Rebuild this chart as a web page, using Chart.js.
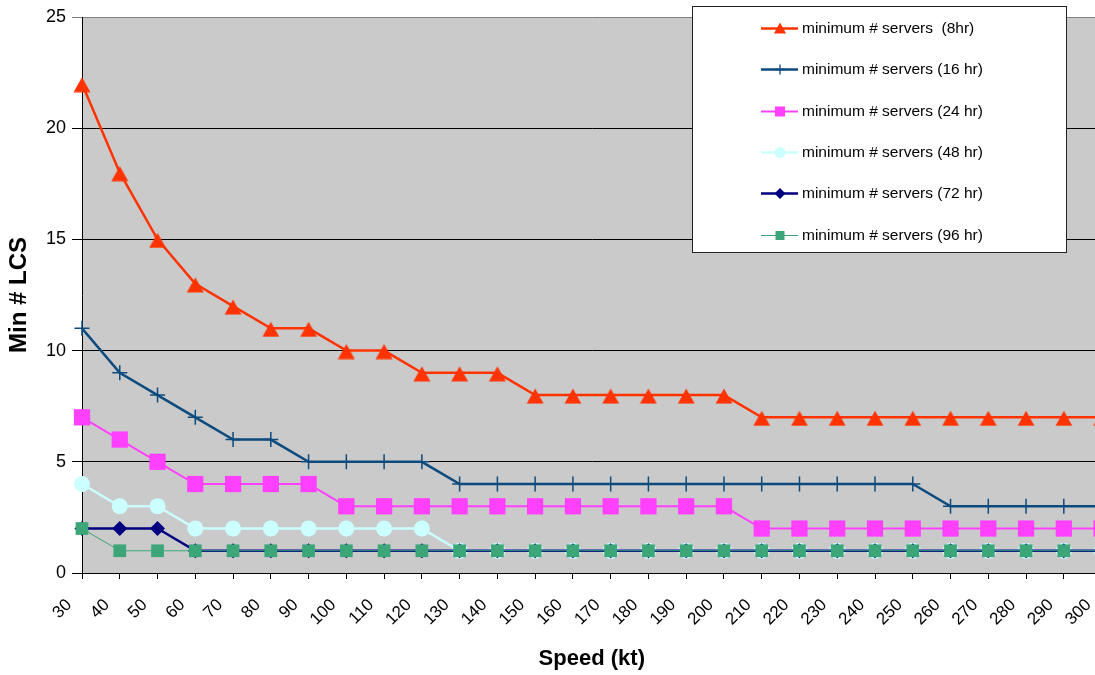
<!DOCTYPE html>
<html>
<head>
<meta charset="utf-8">
<script src="https://cdn.jsdelivr.net/npm/chart.js@4/dist/chart.umd.min.js"></script>
<style>
html, body { margin: 0; padding: 0; background: #fff; overflow: hidden; width: 1095px; height: 675px; }
#wrap { position: absolute; left: 0; top: 0; width: 1132px; height: 675px; }
</style>
</head>
<body>
<div id="wrap"><canvas id="c" width="1132" height="675"></canvas></div>
<script>
// ---------- data ----------
const speeds = ['30','40','50','60','70','80','90','100','110','120','130','140','150','160','170','180','190','200','210','220','230','240','250','260','270','280','290','300'];
const servers8hr  = [22,18,15,13,12,11,11,10,10,9,9,9,8,8,8,8,8,8,7,7,7,7,7,7,7,7,7,7];
const servers16hr = [11,9,8,7,6,6,5,5,5,5,4,4,4,4,4,4,4,4,4,4,4,4,4,3,3,3,3,3];
const servers24hr = [7,6,5,4,4,4,4,3,3,3,3,3,3,3,3,3,3,3,2,2,2,2,2,2,2,2,2,2];
const servers48hr = [4,3,3,2,2,2,2,2,2,2,1,1,1,1,1,1,1,1,1,1,1,1,1,1,1,1,1,1];
const servers72hr = [2,2,2,1,1,1,1,1,1,1,1,1,1,1,1,1,1,1,1,1,1,1,1,1,1,1,1,1];
const servers96hr = [2,1,1,1,1,1,1,1,1,1,1,1,1,1,1,1,1,1,1,1,1,1,1,1,1,1,1,1];
const seriesLabels = [
  'minimum # servers  (8hr)',
  'minimum # servers (16 hr)',
  'minimum # servers (24 hr)',
  'minimum # servers (48 hr)',
  'minimum # servers (72 hr)',
  'minimum # servers (96 hr)'
];
const yTicks = [0, 5, 10, 15, 20, 25];
const xTitle = 'Speed (kt)';
const yTitle = 'Min # LCS';

// ---------- styles ----------
const FONT = "'Liberation Sans', Arial, sans-serif";
const C8 = '#FF3300', C16 = '#0D4A7E', C24 = '#FF40FF', C48 = '#CCFFFF', C72 = '#000080', C96 = '#3CA678';

function triCanvas(w, h, top, bottom, color) {
  const c = document.createElement('canvas');
  c.width = w; c.height = h;
  const g = c.getContext('2d');
  g.fillStyle = color;
  g.beginPath();
  g.moveTo(w / 2, top);
  g.lineTo(w - 0.5, bottom);
  g.lineTo(0.5, bottom);
  g.closePath();
  g.fill();
  return c;
}
const triImg = triCanvas(18, 18, 2.5, 17.5, C8);

const datasets = [
  { label: seriesLabels[0], data: servers8hr, borderColor: C8, backgroundColor: C8, borderWidth: 2.5,
    pointStyle: triImg, pointRadius: 9, pointHoverRadius: 9, order: 5 },
  { label: seriesLabels[1], data: servers16hr, borderColor: C16, backgroundColor: C16, borderWidth: 2.5,
    pointStyle: 'cross', pointRadius: 7.5, pointHoverRadius: 7.5, pointBorderWidth: 1.5, pointBorderColor: C16, order: 4 },
  { label: seriesLabels[2], data: servers24hr, borderColor: C24, backgroundColor: C24, borderWidth: 2,
    pointStyle: 'rect', pointRadius: 11.5, pointHoverRadius: 11.5, pointBorderWidth: 0, pointBackgroundColor: C24, order: 3 },
  { label: seriesLabels[3], data: servers48hr, borderColor: C48, backgroundColor: C48, borderWidth: 2.5,
    pointStyle: 'circle', pointRadius: 8, pointHoverRadius: 8, pointBorderWidth: 0, pointBackgroundColor: C48, order: 2 },
  { label: seriesLabels[4], data: servers72hr, borderColor: C72, backgroundColor: C72, borderWidth: 2.5,
    pointStyle: 'rectRot', pointRadius: 7.5, pointHoverRadius: 7.5, pointBorderWidth: 0, pointBackgroundColor: C72, order: 1 },
  { label: seriesLabels[5], data: servers96hr, borderColor: C96, backgroundColor: C96, borderWidth: 1,
    pointStyle: 'rect', pointRadius: 9, pointHoverRadius: 9, pointBorderWidth: 0, pointBackgroundColor: C96, order: 0 }
];
datasets.forEach(d => { d.tension = 0; d.clip = false; d.fill = false; });

// plot area background
const plotBg = {
  id: 'plotBg',
  beforeDraw(chart) {
    const { ctx, chartArea: a } = chart;
    ctx.save();
    ctx.fillStyle = '#FFFFFF';
    ctx.fillRect(0, 0, chart.width, chart.height);
    ctx.fillStyle = '#CACACA';
    ctx.fillRect(a.left, a.top, a.right - a.left, a.bottom - a.top);
    ctx.restore();
  }
};

// legend box drawn over the plot
const legendBox = {
  id: 'legendBox',
  afterDraw(chart) {
    const ctx = chart.ctx;
    ctx.save();
    const bx = 692.5, by = 6.5, bw = 374, bh = 246;
    ctx.fillStyle = '#FFFFFF';
    ctx.fillRect(bx, by, bw, bh);
    ctx.strokeStyle = '#222222';
    ctx.lineWidth = 1;
    ctx.strokeRect(bx, by, bw, bh);
    const x0 = 761, x1 = 798, mx = 780;
    ctx.font = '15.5px ' + FONT;
    ctx.textBaseline = 'middle';
    ctx.textAlign = 'left';
    chart.data.datasets.forEach((d, i) => {
      const y = Math.round(28 + i * 41.3) + 0.5;
      ctx.strokeStyle = d.borderColor;
      ctx.lineWidth = d.borderWidth;
      ctx.beginPath();
      ctx.moveTo(x0, y);
      ctx.lineTo(x1, y);
      ctx.stroke();
      ctx.fillStyle = d.borderColor;
      ctx.strokeStyle = d.borderColor;
      ctx.beginPath();
      if (i === 0) {
        ctx.moveTo(mx, y - 6); ctx.lineTo(mx + 6, y + 5); ctx.lineTo(mx - 6, y + 5); ctx.closePath(); ctx.fill();
      } else if (i === 1) {
        ctx.lineWidth = 1.3;
        ctx.moveTo(mx, y - 5); ctx.lineTo(mx, y + 5); ctx.moveTo(mx - 5, y); ctx.lineTo(mx + 5, y); ctx.stroke();
      } else if (i === 2) {
        ctx.fillRect(mx - 5, y - 5, 10, 10);
      } else if (i === 3) {
        ctx.arc(mx, y, 5.5, 0, Math.PI * 2); ctx.fill();
      } else if (i === 4) {
        ctx.moveTo(mx, y - 5.5); ctx.lineTo(mx + 5.5, y); ctx.lineTo(mx, y + 5.5); ctx.lineTo(mx - 5.5, y); ctx.closePath(); ctx.fill();
      } else {
        ctx.fillRect(mx - 4.5, y - 4.5, 9, 9);
      }
      ctx.fillStyle = '#000000';
      ctx.fillText(d.label, 802, y);
    });
    ctx.restore();
  }
};

new Chart(document.getElementById('c'), {
  type: 'line',
  data: { labels: speeds, datasets: datasets },
  options: {
    responsive: false,
    animation: false,
    devicePixelRatio: 1,
    layout: { padding: { top: 17, right: 10, bottom: 0, left: 0 } },
    plugins: { legend: { display: false }, tooltip: { enabled: false } },
    scales: {
      x: {
        type: 'category',
        offset: false,
        grid: { drawOnChartArea: false, drawTicks: true, tickLength: 6, color: '#000000', lineWidth: 1 },
        border: { display: true, color: '#000000', width: 1 },
        ticks: {
          autoSkip: false, minRotation: 45, maxRotation: 45,
          labelOffset: -13, padding: 16,
          color: '#000000', font: { family: FONT, size: 17 }
        },
        title: { display: true, text: xTitle, color: '#000000',
          font: { family: FONT, size: 22, weight: 'bold' }, padding: { top: 0, bottom: 3 } },
        afterFit(s) { s.height = 102; }
      },
      y: {
        min: 0, max: 25,
        grid: {
          drawOnChartArea: true, drawTicks: true, tickLength: 10, lineWidth: 1,
          color: (c) => (c.tick && c.tick.value === 25 ? '#808080' : '#000000')
        },
        border: { display: true, color: '#000000', width: 1 },
        afterBuildTicks(s) { s.ticks = yTicks.map(v => ({ value: v })); },
        ticks: { padding: 6, color: '#000000', font: { family: FONT, size: 18 } },
        title: { display: true, text: yTitle, color: '#000000',
          font: { family: FONT, size: 24, weight: 'bold' }, padding: { top: 5, bottom: 0 } },
        afterFit(s) { s.width = 82; }
      }
    }
  },
  plugins: [plotBg, legendBox]
});
</script>
</body>
</html>
